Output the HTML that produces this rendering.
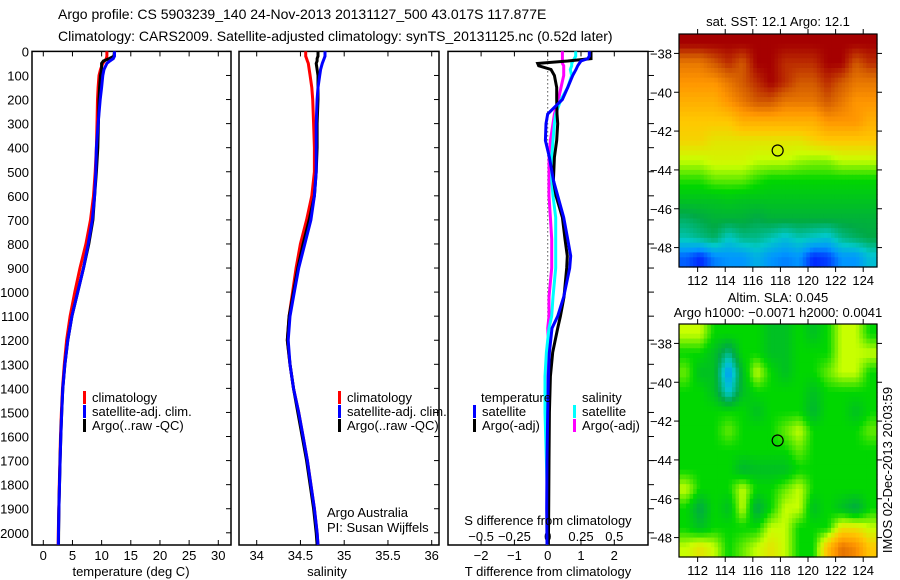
<!DOCTYPE html>
<html><head><meta charset="utf-8">
<style>
html,body{margin:0;padding:0;background:#fff;}
svg{display:block;font-family:"Liberation Sans",Arial,sans-serif;}
text{fill:#000;}
</style></head>
<body>
<svg id="fig" width="900" height="580" viewBox="0 0 900 580" xmlns="http://www.w3.org/2000/svg">
<text x="58" y="19" font-size="14">Argo profile: CS 5903239_140 24-Nov-2013 20131127_500 43.017S 117.877E</text>
<text x="58" y="41" font-size="14">Climatology: CARS2009. Satellite-adjusted climatology: synTS_20131125.nc (0.52d later)</text>
<g id="g"></g>
</svg>
<script>
// ---------- data ----------
const depths=[0,20,30,40,50,75,100,150,200,300,400,500,600,700,800,900,1000,1100,1200,1300,1400,1500,1600,1700,1800,1900,2000,2050];
const tClim=[10.9,10.9,10.8,10.5,10.2,9.8,9.55,9.4,9.3,9.2,9.1,8.9,8.6,8.1,7.3,6.3,5.4,4.6,4.0,3.6,3.3,3.1,2.95,2.85,2.75,2.65,2.57,2.55];
const tSat=[12.2,12.2,12.0,11.4,10.9,10.4,10.2,10.0,9.75,9.4,9.1,9.0,8.8,8.4,7.7,6.9,5.9,4.9,4.2,3.7,3.35,3.15,3.0,2.88,2.78,2.68,2.6,2.58];
const tArgo=[12.2,12.1,11.3,10.3,10.0,10.0,9.8,9.65,9.55,9.45,9.35,9.1,8.8,8.5,7.8,6.9,5.9,4.9,4.2,3.7,3.35,3.15,3.0,2.88,2.78,2.68,2.62,2.6];
const sClim=[34.56,34.56,34.57,34.58,34.59,34.6,34.61,34.63,34.64,34.65,34.66,34.66,34.63,34.57,34.5,34.45,34.41,34.37,34.35,34.38,34.42,34.48,34.53,34.58,34.62,34.66,34.69,34.7];
const sSat=[34.78,34.78,34.77,34.76,34.75,34.73,34.72,34.7,34.69,34.68,34.68,34.68,34.66,34.62,34.55,34.48,34.43,34.38,34.36,34.38,34.42,34.48,34.53,34.58,34.62,34.66,34.69,34.7];
const sArgo=[34.7,34.7,34.69,34.69,34.68,34.69,34.7,34.7,34.7,34.69,34.69,34.68,34.66,34.6,34.53,34.47,34.42,34.37,34.35,34.38,34.42,34.47,34.52,34.57,34.61,34.65,34.68,34.69];
const diffDepths=[0,20,30,40,50,60,75,100,150,200,260,300,370,440,535,600,690,780,850,900,1020,1100,1150,1250,1350,1500,1700,1900,2050];
const dTSat=[1.25,1.25,1.2,1.0,0.95,0.9,0.85,0.75,0.6,0.44,0.0,-0.05,-0.07,0.05,0.17,0.3,0.48,0.6,0.69,0.66,0.48,0.3,0.13,0.05,0.02,0.0,-0.02,-0.03,-0.02];
const dTArgo=[1.3,1.3,1.3,0.6,-0.3,-0.27,0.1,0.2,0.27,0.27,0.28,0.3,0.27,0.2,0.17,0.25,0.44,0.52,0.59,0.57,0.49,0.38,0.3,0.15,0.08,0.05,0.04,0.03,0.02];
const dSSat=[0.21,0.21,0.2,0.19,0.18,0.18,0.17,0.18,0.15,0.1,0.06,0.05,0.04,0.03,0.03,0.04,0.06,0.06,0.06,0.06,0.04,0.03,0.01,-0.01,-0.02,-0.02,-0.01,0.0,0.0];
const dSArgo=[0.11,0.11,0.11,0.11,0.11,0.12,0.12,0.12,0.1,0.08,0.05,0.04,0.02,0.01,0.01,0.01,0.02,0.03,0.03,0.03,0.01,0.01,0.0,0.01,0.0,0.0,0.0,0.0,0.0];
const depthTicks=[0,100,200,300,400,500,600,700,800,900,1000,1100,1200,1300,1400,1500,1600,1700,1800,1900,2000];
const tTicks=[0,5,10,15,20,25,30];
const sTicks=[34,34.5,35,35.5,36];
const sTickLabels=["34","34.5","35","35.5","36"];
const dTTicks=[-2,-1,0,1,2];
const dSTicks=[-0.5,-0.25,0,0.25,0.5];
const dSTickLabels=["\u22120.5","\u22120.25","0","0.25","0.5"];
const latTicks=[-38,-40,-42,-44,-46,-48];
const lonTicks=[112,114,116,118,120,122,124];
const argoLon=117.8, argoLat=-43.0;
const sstGrid=[
[10,10,10,10,10,10,10,10,10,10,10,10,10,10],
[8.5,8.5,9,9.5,9,10,10,9.5,9.5,9.5,10,10,9,9.5],
[8,8,8,8.5,9,9.5,10,9.5,9,9,9.5,9,8.5,8.5],
[7.5,7.5,7.5,8,8.5,9,9,8.5,8.5,8.5,9,8.5,8,8],
[7,7,7,7,7.5,7.5,7.5,7.5,7.5,7.5,8,8,8,7.5],
[6.8,6.8,6.5,6.5,6.5,6.5,6.5,6.5,6.5,6.8,7,7,7,7],
[6,6,6.2,6.2,6.2,6,6,6,5.8,5.7,5.7,6,6,6],
[5.2,5.2,5.5,5.5,5.5,5.2,5,5,5,5,5,5,5,5],
[4.6,4.6,4.6,4.7,4.6,4.6,4.6,4.6,4.6,4.6,4.6,4.6,4.6,4.6],
[3.8,4,4.2,4.2,4.2,4,4.2,4.2,4.2,4.2,4.2,4.2,4.2,4.2],
[3.2,3.5,3.8,3,3.5,3.5,3.2,2.8,3.2,3,2.8,3.5,3.8,4],
[1.5,1,1.8,2,2,2.5,2,1.8,2,1,1.2,2,2,2.8]];
const slaGrid=[
[6,6,5,5,5,5,4.5,4.5,5,4.5,5,6,6,5],
[5,5,4.5,3.5,5,5,4.5,4.5,5,5,5,6,6,6],
[5.5,4.5,4.5,2,4.5,6,5,4.5,5,5,5.5,6,6,5],
[5,5,4.5,2.8,4.5,5,5,5,5,4.5,5,5,5,5],
[5,5,5,5,5,4.5,5,5,5,4.3,5,5,4.5,5],
[5,5,5,5.5,5,5,5,5.5,6,5,5,5,5,5.5],
[5,5,5,5,5,5,5,5,5.5,5,5,5,5,5],
[5,5,5,5,4.3,4.5,4.5,4.5,5,5,5,5,5,5],
[6,5,5,5,6,5,5,5.5,6,5,5,5,5,5],
[5,4,5,4.5,6,4,5,6,6,4.5,5,4.5,4,5],
[5,4.5,5,5,5,5,6,6,5,5,5,6.5,6.5,6],
[6,6.5,6,5,5.5,6,6.5,6,5,5,7.2,8.6,8.2,7]];

// ---------- helpers ----------
const NS="http://www.w3.org/2000/svg";
const G=document.getElementById('g');
function el(tag,attrs,parent){const e=document.createElementNS(NS,tag);for(const k in attrs)e.setAttribute(k,attrs[k]);(parent||G).appendChild(e);return e;}
function txt(x,y,s,size,anchor,parent){const t=el('text',{x:x,y:y,'font-size':size,'text-anchor':anchor||'start'},parent);t.textContent=s;return t;}
const PT=51.4, PB=545, yD=d=>PT+d*0.2407;
const P1={x0:32,x1:231}, P2={x0:239,x1:439}, P3={x0:448,x1:648};
const xT=v=>43.3+v*5.833;
const xS=v=>256.7+(v-34)*87.5;
const xDT=v=>547.7+v*33.3;
const xDS=v=>547.7+v*133.2;

function frame(P,name){const r=el('rect',{x:P.x0,y:PT,width:P.x1-P.x0,height:PB-PT,fill:'none',stroke:'#000','stroke-width':1.5});

}
function yTicks(P,labels,outRight){
 depthTicks.forEach(d=>{const y=yD(d);
  const t=el('line',{x1:outRight?P.x1:P.x1-5,x2:outRight?P.x1+6:P.x1,y1:y,y2:y,stroke:'#000'});
  
  
  if(labels){const l=txt(29,y+5,String(d),13,'end');
   
   }
 });}
function xTicks(P,ticks,fx,labels,ly){
 ticks.forEach((v,i)=>{const x=fx(v);
  el('line',{x1:x,x2:x,y1:PB,y2:PB-5,stroke:'#000'});
  el('line',{x1:x,x2:x,y1:PT,y2:PT+5,stroke:'#000'});
  if(labels){const l=txt(x,ly,labels[i],13,'middle');
   
   }
 });}
function line(ds,vs,fx,color,name,w){
 const pts=ds.map((d,i)=>fx(vs[i]).toFixed(1)+','+yD(d).toFixed(1)).join(' ');
 const p=el('polyline',{points:pts,fill:'none',stroke:color,'stroke-width':w||3,'stroke-linejoin':'miter'});
 
 }
function legend(x,y,color,label){
 const g=el('g',{});
 
 
 el('rect',{x:x,y:y-11,width:3,height:13,fill:color},g);
 txt(x+9,y,label,13,'start',g);}

// ---------- panel 1 ----------
frame(P1,'temperature-panel');
yTicks(P1,true,false);
xTicks(P1,tTicks,xT,tTicks.map(String),560);
line(depths,tClim,xT,'#ff0000','temperature-climatology-line');
line(depths,tArgo,xT,'#000000','temperature-argo-line');
line(depths,tSat,xT,'#0000ff','temperature-satellite-line');
legend(83,402,'#ff0000','climatology');
legend(83,416,'#0000ff','satellite-adj. clim.');
legend(83,430,'#000000','Argo(..raw -QC)');
txt(131,576,'temperature (deg C)',13,'middle');

// ---------- panel 2 ----------
frame(P2,'salinity-panel');
yTicks(P2,false,false);
xTicks(P2,sTicks,xS,sTickLabels,560);
line(depths,sClim,xS,'#ff0000','salinity-climatology-line');
line(depths,sArgo,xS,'#000000','salinity-argo-line');
line(depths,sSat,xS,'#0000ff','salinity-satellite-line');
legend(338,402,'#ff0000','climatology');
legend(338,416,'#0000ff','satellite-adj. clim.');
legend(338,430,'#000000','Argo(..raw -QC)');
txt(327,517,'Argo Australia',13);
txt(327,532,'PI: Susan Wijffels',13);
txt(327,576,'salinity',13,'middle');

// ---------- panel 3 ----------
frame(P3,'difference-panel');
yTicks(P3,false,true);
xTicks(P3,dTTicks,xDT,dTTicks.map(v=>v<0?'\u2212'+(-v):String(v)),560);
dSTicks.forEach((v,i)=>{const l=txt(xDS(v),541,dSTickLabels[i],13,'middle');
 
 });
el('line',{x1:xDT(0),x2:xDT(0),y1:PT,y2:PB,stroke:'#000','stroke-dasharray':'1,3'});
line(diffDepths,dSArgo,xDS,'#ff00ff','s-diff-argo-line');
line(diffDepths,dSSat,xDS,'#00ffff','s-diff-satellite-line');
line(diffDepths,dTArgo,xDT,'#000000','t-diff-argo-line');
line(diffDepths,dTSat,xDT,'#0000ff','t-diff-satellite-line');
txt(481,402,'temperature',13);
legend(473,416,'#0000ff','satellite');
legend(473,430,'#000000','Argo(-adj)');
txt(582,402,'salinity',13);
legend(573,416,'#00ffff','satellite');
legend(573,430,'#ff00ff','Argo(-adj)');
txt(548,525,'S difference from climatology',13,'middle');
txt(548,576,'T difference from climatology',13,'middle');

// ---------- maps ----------
const palStops=[[0,[0,0,128]],[1,[0,40,255]],[2,[0,150,255]],[3,[0,200,200]],[4,[0,170,70]],[5,[0,215,0]],[6,[200,255,0]],[7,[255,200,0]],[8,[255,150,0]],[9,[210,90,0]],[10,[165,0,0]]];
function pal(v){v=Math.max(0,Math.min(10,v));const i=Math.min(9,Math.floor(v));const f=v-i;const a=palStops[i][1],b=palStops[i+1][1];
 return 'rgb('+a.map((c,k)=>Math.round(c+(b[k]-c)*f)).join(',')+')';}
const LON0=110.65,LON1=125.0,LAT0=-37.0,LAT1=-49.0;
function drawMap(grid,top,bottom,name,sub,smooth){
 const X0=679,X1=877;
 const xL=lon=>X0+(lon-LON0)/(LON1-LON0)*(X1-X0);
 const yL=lat=>top+(lat-LAT0)/(LAT1-LAT0)*(bottom-top);
 const g=el('g',{});
 
 
 const R=grid.length,C=grid[0].length;
 const sub2=sub||1;
 const cw=(X1-X0)/(C*sub2), ch=(bottom-top)/(R*sub2);
 for(let r=0;r<R*sub2;r++)for(let c=0;c<C*sub2;c++){
  let v;
  if(smooth){const fr=Math.max(0,Math.min(R-1,(r+0.5)/sub2-0.5)),fc=Math.max(0,Math.min(C-1,(c+0.5)/sub2-0.5));
   const r0=Math.floor(fr),c0=Math.floor(fc),r1=Math.min(R-1,r0+1),c1=Math.min(C-1,c0+1),a=fr-r0,b=fc-c0;
   v=grid[r0][c0]*(1-a)*(1-b)+grid[r0][c1]*(1-a)*b+grid[r1][c0]*a*(1-b)+grid[r1][c1]*a*b;}
  else v=grid[Math.floor(r/sub2)][Math.floor(c/sub2)];
  el('rect',{x:(X0+c*cw).toFixed(2),y:(top+r*ch).toFixed(2),width:(cw+0.6).toFixed(2),height:(ch+0.6).toFixed(2),fill:pal(v)},g);
 }
 el('rect',{x:X0,y:top,width:X1-X0,height:bottom-top,fill:'none',stroke:'#000','stroke-width':1.2},g);
 latTicks.forEach(l=>{const y=yL(l);el('line',{x1:X0,x2:X0-5,y1:y,y2:y,stroke:'#000'},g);el('line',{x1:X1,x2:X1+5,y1:y,y2:y,stroke:'#000'},g);
  txt(672,y+5,'\u2212'+(-l),13,'end',g);});
 lonTicks.forEach(l=>{const x=xL(l);el('line',{x1:x,x2:x,y1:top,y2:top-5,stroke:'#000'},g);el('line',{x1:x,x2:x,y1:bottom,y2:bottom+5,stroke:'#000'},g);
  txt(x,bottom+18,String(l),13,'middle',g);});
 const c=el('circle',{cx:xL(argoLon),cy:yL(argoLat),r:5.5,fill:'none',stroke:'#000','stroke-width':1.2},g);
 
 
}
drawMap(sstGrid,34,267,'sst-map',4,true);
drawMap(slaGrid,324,557,'sla-map',4,true);
txt(778,26,'sat. SST: 12.1 Argo: 12.1',13,'middle');
txt(778,302,'Altim. SLA: 0.045',13,'middle');
txt(778,317,'Argo h1000: \u22120.0071 h2000: 0.0041',13,'middle');
const imos=txt(0,0,'IMOS 02-Dec-2013 20:03:59',13,'middle');
imos.setAttribute('transform','translate(892,470) rotate(-90)');


</script>
</body></html>
